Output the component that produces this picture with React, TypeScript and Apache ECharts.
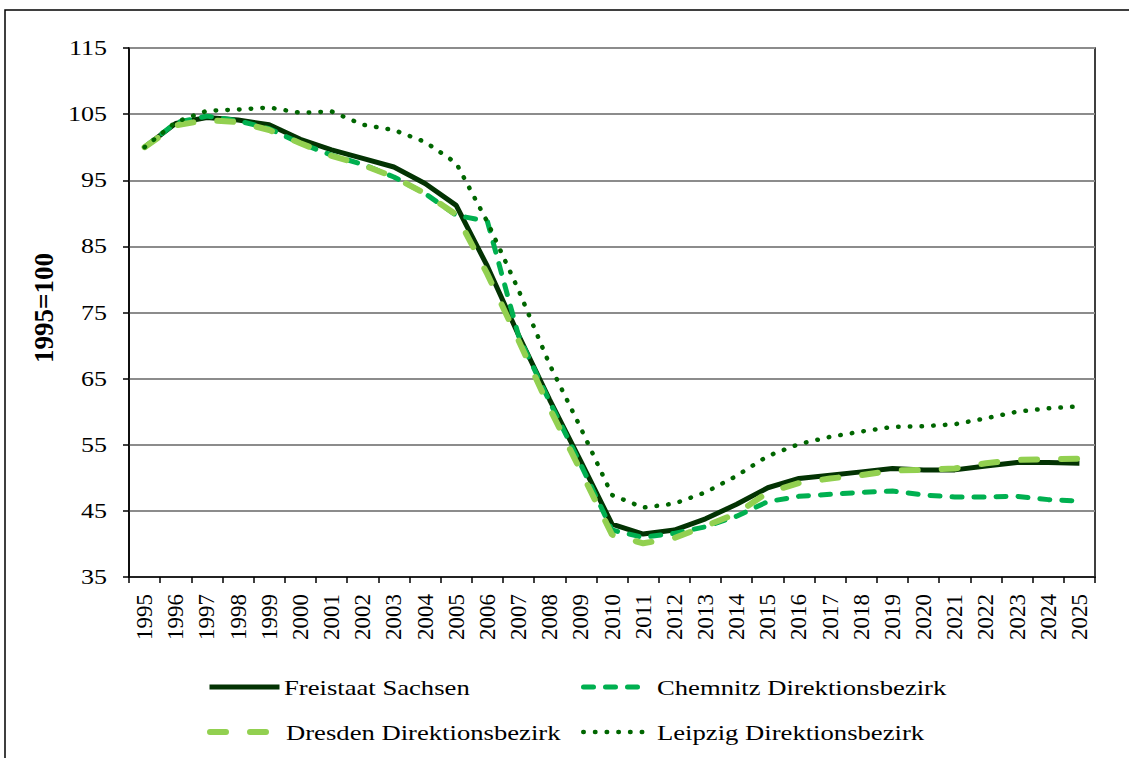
import React, { useEffect, useRef } from "react";
import * as echarts from "echarts";

const years = [
  "1995","1996","1997","1998","1999","2000","2001","2002","2003","2004",
  "2005","2006","2007","2008","2009","2010","2011","2012","2013","2014",
  "2015","2016","2017","2018","2019","2020","2021","2022","2023","2024","2025",
];

const yTicks = [35, 45, 55, 65, 75, 85, 95, 105, 115];

const sachsen = [
  100, 103.6, 104.5, 104.1, 103.4, 101.2, 99.6, 98.3, 97.0, 94.5,
  91.2, 82.0, 71.6, 61.8, 52.5, 43.0, 41.5, 42.1, 43.8, 46.0,
  48.5, 49.9, 50.4, 50.9, 51.4, 51.2, 51.2, 51.8, 52.3, 52.3, 52.2,
];
const chemnitz = [
  100, 103.7, 104.7, 104.0, 102.8, 100.6, 98.8, 97.4, 95.5, 93.0,
  89.7, 88.8, 71.5, 61.5, 52.0, 42.1, 41.0, 41.6, 42.6, 44.2,
  46.4, 47.2, 47.5, 47.8, 48.0, 47.4, 47.1, 47.1, 47.2, 46.7, 46.5,
];
const dresden = [
  100, 103.3, 104.1, 103.8, 102.6, 100.6, 98.7, 97.3, 95.5, 93.0,
  89.8, 80.8, 70.8, 60.5, 51.0, 41.4, 40.1, 40.9, 42.7, 44.6,
  47.8, 49.2, 49.9, 50.4, 51.1, 51.2, 51.4, 52.2, 52.7, 52.8, 52.9,
];
const leipzig = [
  100, 103.8, 105.5, 105.7, 106.0, 105.2, 105.4, 103.4, 102.6, 100.8,
  97.6, 88.7, 78.4, 67.1, 57.5, 47.4, 45.5, 46.1, 47.8, 50.3,
  53.3, 55.1, 56.2, 57.0, 57.7, 57.8, 58.1, 59.0, 60.0, 60.5, 60.8,
];

const names = [
  "Freistaat Sachsen",
  "Chemnitz Direktionsbezirk",
  "Dresden Direktionsbezirk",
  "Leipzig Direktionsbezirk",
];
const yTitle = "1995=100";

const FONT = "'Liberation Serif', 'Times New Roman', serif";
const STRETCH = 1.24;

const styles = [
  { color: "#033303", width: 5, type: "solid" as any, cap: "butt" },
  { color: "#00B050", width: 5, type: [10, 12] as any, cap: "round" },
  { color: "#92D050", width: 6, type: [16, 24] as any, cap: "round" },
  { color: "#006600", width: 4.5, type: [0.5, 11.2] as any, cap: "round" },
];

// legend layout: [symbolLeft, centerY, symbolWidth, textLeft]
const legendPos = [
  [207, 687, 70, 284],
  [581, 687, 62, 657],
  [207, 732, 64, 286],
  [581, 732, 60, 657],
];

export default function App() {
  const ref = useRef<HTMLDivElement>(null);
  useEffect(() => {
    if (!ref.current) return;
    const chart = echarts.init(ref.current, null, { renderer: "svg" });
    const mkLegend = (i: number) => ({
      data: [names[i]],
      left: legendPos[i][0],
      top: legendPos[i][1] - 7,
      padding: 0,
      itemWidth: legendPos[i][2],
      itemHeight: 14,
      itemGap: 0,
      formatter: () => "",
      selectedMode: false,
      textStyle: { fontFamily: FONT, fontSize: 1, color: "#000" },
      itemStyle: { color: "rgba(0,0,0,0)", borderColor: "rgba(0,0,0,0)", borderWidth: 0 },
      lineStyle: {
        color: styles[i].color,
        width: styles[i].width,
        type: styles[i].type,
        cap: styles[i].cap,
      },
    });
    chart.setOption({
      animation: false,
      backgroundColor: "#fff",
      grid: {
        left: 129,
        top: 48,
        right: 34,
        bottom: 181,
        show: true,
        borderColor: "#000",
        borderWidth: 1.5,
        backgroundColor: "transparent",
      },
      legend: [mkLegend(0), mkLegend(1), mkLegend(2), mkLegend(3)],
      xAxis: {
        type: "category",
        data: years,
        boundaryGap: true,
        axisLine: { lineStyle: { color: "#000", width: 1.5 } },
        axisTick: { show: true, interval: 0, length: 6, lineStyle: { color: "#000", width: 1.5 } },
        axisLabel: {
          interval: 0,
          rotate: 90,
          fontFamily: FONT,
          fontSize: 23,
          color: "#000",
          margin: 17,
        },
        splitLine: { show: false },
      },
      yAxis: {
        type: "value",
        min: 35,
        max: 115,
        interval: 10,
        axisLine: { show: true, lineStyle: { color: "#000", width: 1.5 } },
        axisTick: { show: true, length: 6, lineStyle: { color: "#000", width: 1.5 } },
        axisLabel: { show: false },
        splitLine: { show: true, lineStyle: { color: "#8c8c8c", width: 2 } },
      },
      series: [sachsen, chemnitz, dresden, leipzig].map((d, i) => ({
        name: names[i],
        type: "line",
        data: d,
        symbol: "none",
        lineStyle: {
          color: styles[i].color,
          width: styles[i].width,
          type: styles[i].type,
          cap: styles[i].cap,
        },
        itemStyle: { color: styles[i].color },
        z: 2 + i,
      })),
    });

    const graphics: any[] = [
      {
        type: "rect",
        shape: { x: 5, y: 10, width: 1300, height: 900 },
        style: { fill: "none", stroke: "#000", lineWidth: 1.5 },
        silent: true,
        z: 0,
      },
      {
        type: "text",
        x: 44,
        y: 308,
        rotation: Math.PI / 2,
        style: {
          text: yTitle,
          fontFamily: FONT,
          fontSize: 27,
          fontWeight: "bold",
          fill: "#000",
          align: "center",
          verticalAlign: "middle",
        },
      },
    ];
    yTicks.forEach((v) => {
      const py = chart.convertToPixel({ yAxisIndex: 0 }, v) as number;
      graphics.push({
        type: "text",
        x: 107,
        y: py,
        scaleX: STRETCH,
        style: {
          text: String(v),
          fontFamily: FONT,
          fontSize: 21,
          fill: "#000",
          align: "right",
          verticalAlign: "middle",
        },
      });
    });
    names.forEach((n, i) => {
      graphics.push({
        type: "text",
        x: legendPos[i][3],
        y: legendPos[i][1],
        scaleX: STRETCH,
        style: {
          text: n,
          fontFamily: FONT,
          fontSize: 21.5,
          fill: "#000",
          align: "left",
          verticalAlign: "middle",
        },
      });
    });
    chart.setOption({ graphic: graphics });
    return () => chart.dispose();
  }, []);
  return (
    <div
      ref={ref}
      style={{ position: "fixed", left: 0, top: 0, width: 1129, height: 758 }}
    />
  );
}
